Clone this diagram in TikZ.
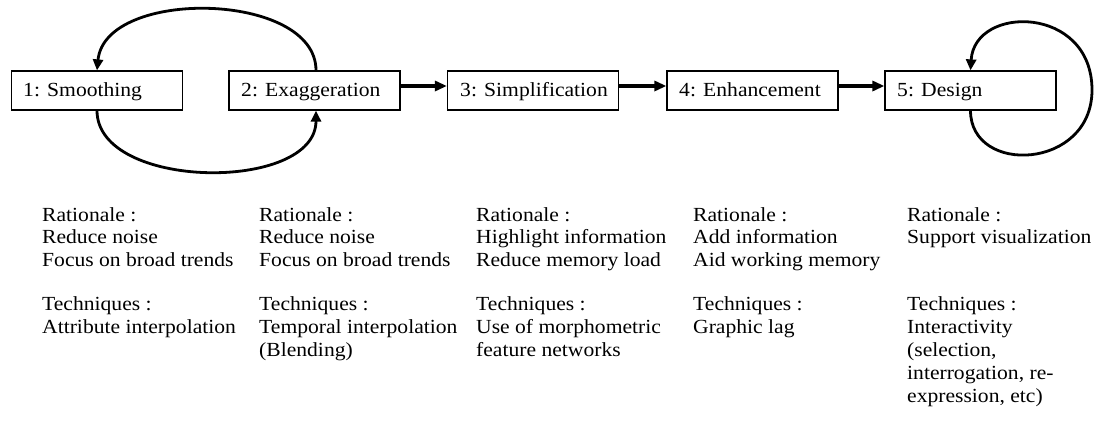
\documentclass[tikz,border=0pt]{standalone}
\usepackage{fontspec}
\setmainfont{Liberation Serif}[FakeStretch=1.08]
\usetikzlibrary{arrows.meta}
\begin{document}
\begin{tikzpicture}[x=1pt,y=-1pt,
  stage/.style={draw, line width=1.2pt, minimum width=171pt, minimum height=39pt, inner sep=0pt},
  lab/.style={anchor=base west, inner sep=0pt, font=\fontsize{20}{22.8}\selectfont},
  info/.style={anchor=north west, inner sep=0pt, align=left, font=\fontsize{20}{22.8}\selectfont},
  flow/.style={line width=3.5pt, -{Triangle[length=12pt,width=10pt]}},
  cyc/.style={line width=2.8pt, -{Triangle[length=11pt,width=10pt]}}
]
\useasboundingbox (0,0) rectangle (1094,426);
\node[stage] (b1) at (97,90.5) {};
\node[stage] (b2) at (314.5,90.5) {};
\node[stage] (b3) at (533,90.5) {};
\node[stage] (b4) at (752.5,90.5) {};
\node[stage] (b5) at (970.5,90.5) {};
\node[lab] (l1) at (23,96.5) {1: Smoothing};
\node[lab] (l2) at (241,96.5) {2: Exaggeration};
\node[lab] (l3) at (460,96.5) {3: Simplification};
\node[lab] (l4) at (679,96.5) {4: Enhancement};
\node[lab] (l5) at (897,96.5) {5: Design};
\draw[flow] ([yshift=4.5pt]b2.east) -- ([yshift=4.5pt]b3.west);
\draw[flow] ([yshift=4.5pt]b3.east) -- ([yshift=4.5pt]b4.west);
\draw[flow] ([yshift=4.5pt]b4.east) -- ([yshift=4.5pt]b5.west);
\draw[cyc] ([xshift=1.5pt]b2.north) .. controls +(0,-79) and +(8,-83) .. (b1.north);
\draw[cyc] (b1.south) .. controls +(0,80) and +(0,82) .. ([xshift=1.5pt]b2.south);
\coordinate (r5) at (1092,90);
\draw[cyc] (b5.south) .. controls +(0,65) and +(0,80) .. (r5) .. controls +(0,-85) and +(4,-66) .. (b5.north);
\node[info] (c1) at (42,207) {Rationale :\\Reduce noise\\Focus on broad trends\\[21.4pt]Techniques :\\Attribute interpolation};
\node[info] (c2) at (259,207) {Rationale :\\Reduce noise\\Focus on broad trends\\[21.4pt]Techniques :\\Temporal interpolation\\(Blending)};
\node[info] (c3) at (476,207) {Rationale :\\Highlight information\\Reduce memory load\\[21.4pt]Techniques :\\Use of morphometric\\feature networks};
\node[info] (c4) at (693,207) {Rationale :\\Add information\\Aid working memory\\[21.4pt]Techniques :\\Graphic lag};
\node[info] (c5) at (907,207) {Rationale :\\Support visualization\\\mbox{}\\[21.4pt]Techniques :\\Interactivity\\(selection,\\interrogation, re-\\expression, etc)};
\end{tikzpicture}
\end{document}
